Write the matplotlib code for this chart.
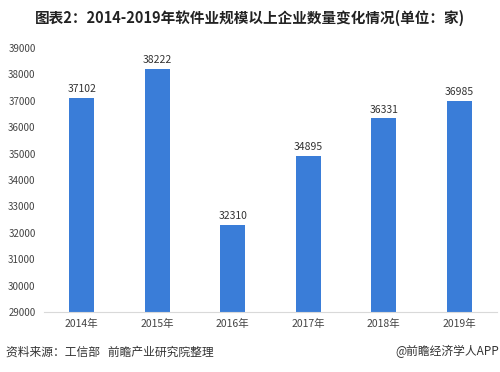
import matplotlib
matplotlib.use("Agg")
import matplotlib.pyplot as plt

plt.rcParams['font.family'] = ['Noto Sans CJK SC', 'DejaVu Sans']

categories = ["2014年", "2015年", "2016年", "2017年", "2018年", "2019年"]
values = [37102, 38222, 32310, 34895, 36331, 36985]
yticks = [29000, 30000, 31000, 32000, 33000, 34000, 35000, 36000, 37000, 38000, 39000]

fig = plt.figure(figsize=(5.0, 3.72), dpi=100)
ax = fig.add_axes([0.088, 0.161, 0.906, 0.710])

x = list(range(len(categories)))
ax.bar(x, values, width=0.33, color="#3a7dd8", zorder=2)
for xi, v in zip(x, values):
    ax.text(xi, v + 150, str(v), ha="center", va="bottom", fontsize=7.5, color="#333333")

ax.set_ylim(29000, 39000)
ax.set_xlim(-0.5, len(categories) - 0.5)
ax.set_yticks(yticks)
ax.set_yticklabels([str(t) for t in yticks], fontsize=7, color="#444444")
ax.set_xticks(x)
ax.set_xticklabels(categories, fontsize=7.5, color="#444444")
ax.tick_params(axis="x", length=0, pad=5)
ax.tick_params(axis="y", length=0, pad=6)
for s in ["top", "right", "left"]:
    ax.spines[s].set_visible(False)
ax.spines["bottom"].set_color("#d9d9d9")
ax.spines["bottom"].set_linewidth(0.8)

fig.text(0.5, 0.952, "图表2：2014-2019年软件业规模以上企业数量变化情况(单位：家)",
         ha="center", va="center", fontsize=10.5, fontweight="bold", color="#222222")
fig.text(0.012, 0.054, "资料来源：工信部   前瞻产业研究院整理", ha="left", va="center",
         fontsize=8.5, color="#333333")
fig.text(0.998, 0.054, "@前瞻经济学人APP", ha="right", va="center",
         fontsize=8.5, color="#333333")

fig.savefig("out.png", dpi=100)
